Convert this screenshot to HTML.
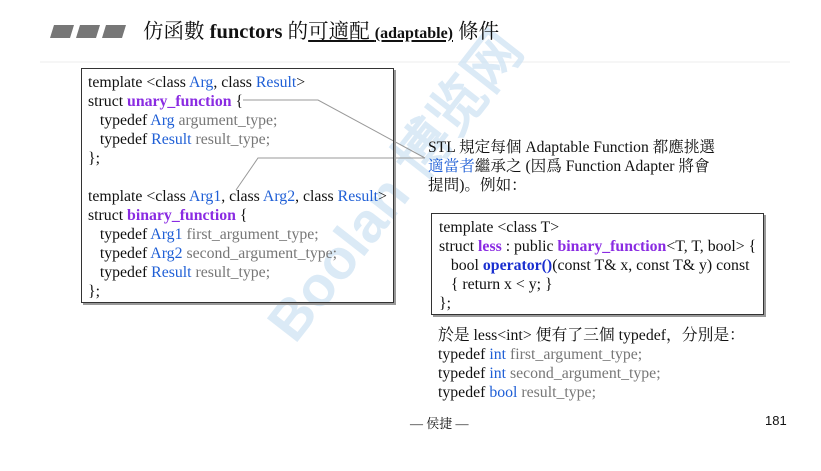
<!DOCTYPE html>
<html><head><meta charset="utf-8"><style>
body{margin:0;width:821px;height:471px;background:#fff;position:relative;overflow:hidden;font-family:"Liberation Serif","Noto Serif CJK SC",serif;color:#111}
.a{position:absolute;white-space:nowrap}
.c{font-size:15.8px;line-height:19px}
.b{color:#1f5fd6}.p{color:#8a2be2;font-weight:bold}.g{color:#777}.k{color:#1a2fd0;font-weight:bold}
.box{position:absolute;border:1.5px solid #333;box-shadow:2px 2px 0 #999}
</style></head><body>
<svg class="a" style="left:0;top:0" width="821" height="471">
<g fill="#777"><polygon points="54,25 74,25 70,38 50,38"/><polygon points="80,25 100,25 96,38 76,38"/><polygon points="106,25 126,25 122,38 102,38"/></g>
<line x1="40" y1="62" x2="790" y2="62" stroke="#eee"/>
<text x="295" y="345" transform="rotate(-52 295 345)" font-family="Liberation Sans" font-weight="bold" font-size="56" fill="#cfe3f3" opacity="0.75">Boolan 博览网</text>
<polyline points="243,100 318,100 425,158" fill="none" stroke="#999" stroke-width="1"/>
<polyline points="425,158 258,158 236,190" fill="none" stroke="#999" stroke-width="1"/>
</svg>
<div class="a" style="left:143px;top:18px;font-size:20.5px;line-height:28px">仿函數 <b>functors</b> 的<u>可適配 <span style="font-size:16px;font-weight:bold">(adaptable)</span></u> 條件</div>
<div class="box" style="left:81px;top:68px;width:311px;height:233px"></div>
<div class="a c" style="left:88px;top:73px">template &lt;class <span class="b">Arg</span>, class <span class="b">Result</span>&gt;<br>struct <span class="p">unary_function</span> {<br>&nbsp;&nbsp;&nbsp;typedef <span class="b">Arg</span> <span class="g">argument_type;</span><br>&nbsp;&nbsp;&nbsp;typedef <span class="b">Result</span> <span class="g">result_type;</span><br>};<br><br>template &lt;class <span class="b">Arg1</span>, class <span class="b">Arg2</span>, class <span class="b">Result</span>&gt;<br>struct <span class="p">binary_function</span> {<br>&nbsp;&nbsp;&nbsp;typedef <span class="b">Arg1</span> <span class="g">first_argument_type;</span><br>&nbsp;&nbsp;&nbsp;typedef <span class="b">Arg2</span> <span class="g">second_argument_type;</span><br>&nbsp;&nbsp;&nbsp;typedef <span class="b">Result</span> <span class="g">result_type;</span><br>};</div>
<div class="a" style="left:428px;top:138px;font-size:15.6px;line-height:19px">STL 規定每個 Adaptable Function 都應挑選<br><span class="b">適當者</span>繼承之 (因爲 Function Adapter 將會<br>提問)。例如：</div>
<div class="box" style="left:431px;top:213px;width:331px;height:100px"></div>
<div class="a c" style="left:439px;top:218px">template &lt;class T&gt;<br>struct <span class="p">less</span> : public <span class="p">binary_function</span>&lt;T, T, bool&gt; {<br>&nbsp;&nbsp;&nbsp;bool <span class="k">operator()</span>(const T&amp; x, const T&amp; y) const<br>&nbsp;&nbsp;&nbsp;{ return x &lt; y; }<br>};</div>
<div class="a c" style="left:438px;top:326px">於是 less&lt;int&gt; 便有了三個 typedef，分別是：<br>typedef <span class="b">int</span> <span class="g">first_argument_type;</span><br>typedef <span class="b">int</span> <span class="g">second_argument_type;</span><br>typedef <span class="b">bool</span> <span class="g">result_type;</span></div>
<div class="a" style="left:410px;top:413px;font-size:13px">— 侯捷 —</div>
<div class="a" style="left:765px;top:413px;font-size:13px;font-family:'Liberation Sans',sans-serif">181</div>
</body></html>
